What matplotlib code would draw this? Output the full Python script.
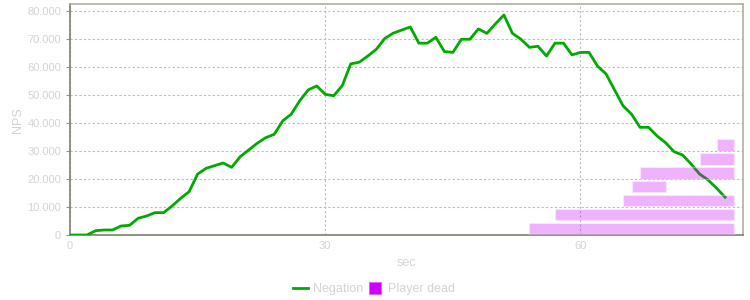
import matplotlib
matplotlib.use("Agg")
import matplotlib.pyplot as plt
from matplotlib.ticker import FuncFormatter, MultipleLocator
from matplotlib.lines import Line2D

plt.rcParams['font.family'] = ['Liberation Sans', 'DejaVu Sans']

seconds = list(range(78))
negation = [0, 0, 0, 1540, 1790, 1790, 3220, 3460, 5960, 6800,
            7990, 7990, 10370, 13100, 15500, 21800, 23850, 24800, 25750, 24200,
            28000, 30400, 32800, 34800, 36000, 40800, 43200, 48000, 51900, 53300,
            50300, 49800, 53400, 61200, 61800, 64000, 66400, 70300, 72200, 73300,
            74400, 68600, 68600, 70700, 65600, 65300, 70000, 70000, 73700, 72100,
            75500, 78700, 72100, 70000, 67100, 67500, 64000, 68600, 68600, 64400,
            65300, 65300, 60400, 57600, 51900, 46200, 43200, 38500, 38500, 35400,
            33000, 29800, 28600, 25400, 21800, 19700, 16700, 13500]

dead_row = [0, 1, 2, 3, 4, 5, 6]
dead_start = [54, 57, 65, 66, 67, 74, 76]
dead_end = [78, 78, 78, 70, 78, 78, 78]

text_col = '#d4d4d4'

fig = plt.figure(figsize=(7.5, 3.0), dpi=100)
ax = fig.add_axes([70/750, 1-235/300, 673/750, (235-4.3)/300])

ax.plot(seconds, negation, color='#00aa00', lw=2, zorder=3)
ax.barh([r*5000 + 2200 for r in dead_row],
        [e - s for s, e in zip(dead_start, dead_end)],
        left=dead_start, height=4000, color='#cc00ff', alpha=0.3,
        edgecolor='white', linewidth=1, zorder=4)

ax.set_xlim(0, 79.1)
ax.set_ylim(0, 82500)
ax.xaxis.set_major_locator(MultipleLocator(30))
ax.yaxis.set_major_locator(MultipleLocator(10000))
ax.yaxis.set_major_formatter(FuncFormatter(lambda v, p: f"{int(v):,}".replace(',', '.')))

ax.grid(True, color='#bbbbbb', linestyle=(0, (2, 2)), linewidth=0.8, zorder=0)
ax.set_axisbelow(True)

for s in ['left', 'bottom']:
    ax.spines[s].set_color('#7f7f6f')
    ax.spines[s].set_linewidth(1.2)
for s in ['top', 'right']:
    ax.spines[s].set_color('#b0b0a0')
    ax.spines[s].set_linewidth(1.2)

ax.tick_params(axis='both', colors='#9a9a8a', labelcolor=text_col, labelsize=8, length=3, width=0.8)
ax.tick_params(axis='x', length=0, pad=4)
ax.set_xlabel('sec', color=text_col, fontsize=9, labelpad=5)
ax.set_ylabel('NPS', color=text_col, fontsize=9, labelpad=2)

handles = [Line2D([0], [0], color='#00aa00', lw=2),
           Line2D([0], [0], color='#cc00ff', marker='s', linestyle='None',
                  markersize=8, markeredgecolor='#dd66ff', markeredgewidth=0.8)]
fig.legend(handles, ['Negation', 'Player dead'], loc='center', bbox_to_anchor=(374/750, 1-289/300),
           ncol=2, frameon=False, fontsize=9, labelcolor=text_col,
           handlelength=1.2, handletextpad=0.45, columnspacing=0.3,
           borderpad=0, borderaxespad=0)

fig.savefig('out.png', dpi=100)
